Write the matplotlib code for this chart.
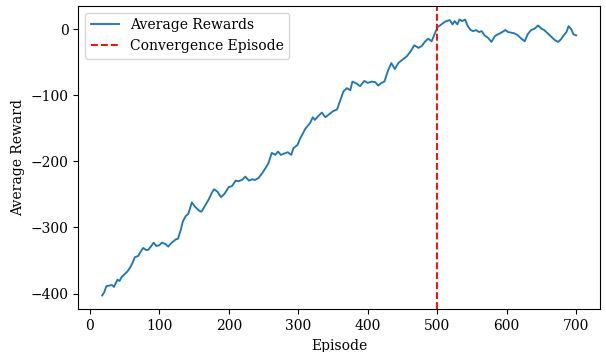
import matplotlib
matplotlib.use("Agg")
import matplotlib.pyplot as plt

episodes = [18, 21, 24, 28, 32, 35, 40, 43, 46, 51, 54, 58, 61, 65, 70, 73, 77, 81,
            84, 88, 92, 96, 100, 104, 109, 113, 118, 124, 127, 131, 134, 138, 142,
            147, 152, 158, 161, 166, 171, 176, 179, 184, 189, 194, 200, 205, 210,
            214, 219, 224, 229, 234, 238, 243, 248, 253, 257, 262, 267, 271, 275,
            280, 285, 290, 293, 299, 303, 307, 310, 313, 317, 321, 324, 329, 334,
            339, 344, 350, 356, 360, 365, 370, 375, 378, 384, 389, 395, 400, 406,
            411, 415, 420, 424, 429, 434, 439, 444, 451, 456, 462, 467, 473, 478,
            482, 487, 492, 497, 501, 504, 509, 513, 518, 522, 525, 529, 532, 536,
            540, 544, 548, 552, 556, 560, 564, 568, 573, 578, 583, 587, 592, 598,
            602, 607, 611, 616, 621, 626, 630, 635, 640, 645, 650, 654, 659, 664,
            669, 674, 678, 682, 686, 689, 693, 696, 700]
rewards = [-403, -398, -389, -388, -387, -390, -379, -381, -375, -370, -367, -361,
           -355, -345, -343, -337, -331, -334, -334, -329, -323, -328, -327, -323,
           -325, -329, -323, -318, -317, -304, -291, -283, -279, -262, -269, -275,
           -276, -267, -258, -247, -242, -246, -254, -249, -239, -237, -229, -230,
           -228, -223, -229, -227, -228, -225, -218, -210, -203, -187, -190, -185,
           -190, -188, -186, -190, -180, -175, -165, -157, -151, -147, -142, -133,
           -137, -131, -126, -133, -129, -124, -121, -109, -94, -89, -92, -79, -82,
           -86, -78, -81, -79, -80, -85, -81, -79, -63, -51, -60, -51, -45, -41,
           -33, -24, -28, -25, -19, -14, -18, -5, 4, 6, 10, 12.6, 14, 7.6, 12.6,
           7.6, 15, 12.6, 15, 5, -1, -2.6, -1, -4, -2.6, -9, -12.6, -19, -10, -7.6,
           -5, -1, -4, -5, -6, -9, -14, -18, -7.6, -1, 1, 6, 1, -1, -6, -11, -16,
           -19, -15, -9, -4, 5, 0, -7.6, -9]
convergence_episode = 500

plt.rcParams['font.family'] = ['DejaVu Serif']
plt.rcParams['font.size'] = 10

fig = plt.figure(figsize=(6.06, 3.52), dpi=100)
ax = fig.add_axes([0.1295, 0.1213, 0.8605, 0.8625])
ax.plot(episodes, rewards, color='#1f77b4', lw=1.35, label='Average Rewards')
ax.axvline(convergence_episode, color='red', ls='--', lw=1.35, label='Convergence Episode')
ax.set_xlabel('Episode')
ax.set_ylabel('Average Reward')
ax.set_xticks([0, 100, 200, 300, 400, 500, 600, 700])
ax.set_yticks([-400, -300, -200, -100, 0])
ax.legend(loc='upper left')
fig.savefig('out.png', dpi=100)
